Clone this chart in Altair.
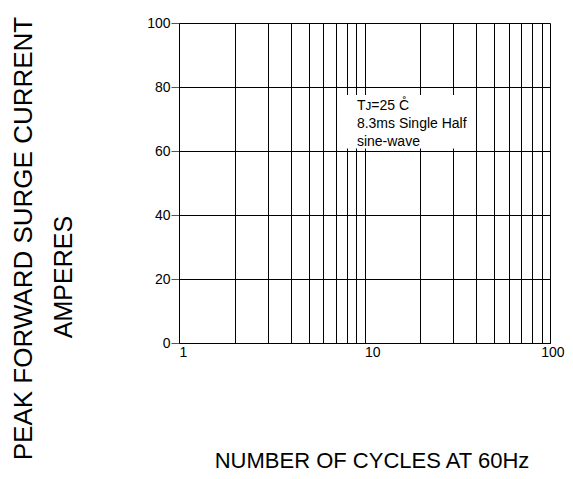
import altair as alt
import pandas as pd

# grid / tick values
x_grid = [1, 2, 3, 4, 5, 6, 7, 8, 9, 10, 20, 30, 40, 50, 60, 70, 80, 90, 100]
x_labels = [1, 10, 100]
y_ticks = [0, 20, 40, 60, 80, 100]

# annotation
note_lines = ["Tᴊ=25 C̊", "8.3ms Single Half", "sine-wave"]
note_y = [74.0, 68.3, 62.8]
note_x = [9.1, 9.1, 9.1]
box = {"x": [7.7], "x2": [35.0], "y": [60.8], "y2": [77.5]}

FONT = "Liberation Sans, Arial, sans-serif"

base_df = pd.DataFrame({"x": [1, 100], "y": [0, 100]})

xscale = alt.Scale(type="log", domain=[1, 100], nice=False)
yscale = alt.Scale(domain=[0, 100], nice=False)

frame = alt.Chart(base_df).mark_point(opacity=0).encode(
    x=alt.X("x:Q", scale=xscale, axis=alt.Axis(
        values=x_grid, grid=True, gridColor="#000000", gridOpacity=1, gridWidth=1,
        ticks=False, domainColor="#000000", domainWidth=1,
        labelExpr="indexof([1,10,100], datum.value) >= 0 ? datum.label : ''",
        labelAlign={"condition": {"test": "datum.value == 100", "value": "right"}, "value": "left"},
        labelOffset={"condition": {"test": "datum.value == 100", "value": 14}, "value": 0},
        labelFlush=False, labelFont=FONT, labelFontSize=14,
        labelColor="#000000", labelPadding=2, labelOverlap=False,
        title="NUMBER OF CYCLES AT 60Hz", titleFont=FONT, titleFontSize=22,
        titleFontWeight="normal", titleColor="#000000", titleX=192.5, titleY=124,
        titleAlign="center", titleBaseline="alphabetic")),
    y=alt.Y("y:Q", scale=yscale, axis=alt.Axis(
        values=y_ticks, grid=True, gridColor="#000000", gridOpacity=1, gridWidth=1,
        ticks=True, tickSize=8, tickColor="#555555", domainColor="#000000",
        labelFont=FONT, labelFontSize=14, labelColor="#000000", labelPadding=1,
        title="PEAK FORWARD SURGE CURRENT", titleFont=FONT,
        titleFontSize=26, titleFontWeight="normal", titleColor="#000000",
        titleAngle=270, titleX=-148, titleY=215, titleAlign="center",
        titleBaseline="alphabetic")),
)

box_df = pd.DataFrame(box)
bg = alt.Chart(box_df).mark_rect(color="white").encode(
    x=alt.X("x:Q", scale=xscale), x2="x2:Q",
    y=alt.Y("y:Q", scale=yscale), y2="y2:Q")

note_df = pd.DataFrame({"x": note_x, "y": note_y, "t": note_lines})
notes = alt.Chart(note_df).mark_text(
    align="left", baseline="middle", font=FONT, fontSize=14, color="#000000"
).encode(x=alt.X("x:Q", scale=xscale), y=alt.Y("y:Q", scale=yscale), text="t:N")

amp = alt.Chart(pd.DataFrame({"t": ["AMPERES"]})).mark_text(
    angle=270, align="center", baseline="alphabetic", font=FONT, fontSize=25,
    color="#000000"
).encode(x=alt.value(-107), y=alt.value(254), text="t:N")

chart = alt.layer(frame, bg, notes, amp).properties(
    width=371, height=320,
    padding={"left": 171, "top": 15, "right": 15, "bottom": 130},
    autosize="none",
).configure_view(stroke="#000000", strokeWidth=1).configure(background="white")

chart.save("out.html", embed_options={"renderer": "svg", "actions": False})
